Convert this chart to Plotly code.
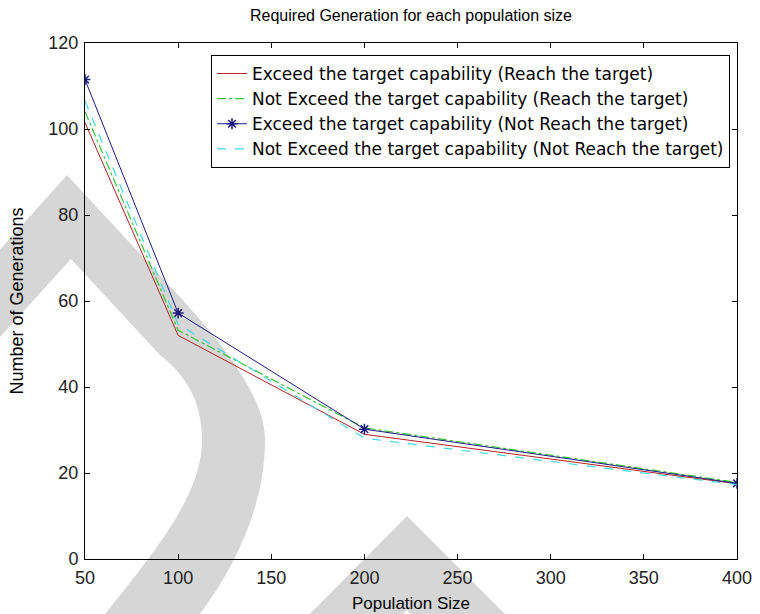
import plotly.graph_objects as go

# ---- data ----
population_size = [50, 100, 200, 400]
exceed_reach = [101.5, 52.0, 29.0, 17.5]
not_exceed_reach = [104.0, 53.2, 30.5, 17.8]
exceed_not_reach = [111.5, 57.2, 30.2, 17.6]
not_exceed_not_reach = [106.5, 54.6, 28.1, 17.3]

series_names = [
    "Exceed the target capability (Reach the target)",
    "Not Exceed the target capability (Reach the target)",
    "Exceed the target capability (Not Reach the target)",
    "Not Exceed the target capability (Not Reach the target)",
]

x_ticks = [50, 100, 150, 200, 250, 300, 350, 400]
y_ticks = [0, 20, 40, 60, 80, 100, 120]

FONT = "Liberation Sans, Arial, sans-serif"
LEGEND_FONT = "DejaVu Sans, Liberation Sans, sans-serif"

W, H = 760, 614
L, R, T, B = 85, 23, 43, 55
PW, PH = W - L - R, H - T - B

fig = go.Figure()
fig.add_trace(go.Scatter(x=population_size, y=exceed_reach, mode="lines",
                         name=series_names[0],
                         line=dict(color="#b22222", width=1, dash="solid")))
fig.add_trace(go.Scatter(x=population_size, y=not_exceed_reach, mode="lines",
                         name=series_names[1],
                         line=dict(color="#33c633", width=1.2, dash="dashdot")))
fig.add_trace(go.Scatter(x=population_size, y=exceed_not_reach, mode="lines+markers",
                         name=series_names[2],
                         line=dict(color="#1c1c80", width=1, dash="solid"),
                         marker=dict(symbol="asterisk-open", size=9,
                                     line=dict(color="#0000ff", width=1.5))))
fig.add_trace(go.Scatter(x=population_size, y=not_exceed_not_reach, mode="lines",
                         name=series_names[3],
                         line=dict(color="#3fd9df", width=1.2, dash="dash")))


def pp(px, py):
    return "%.4f,%.4f" % ((px - L) / PW, (H - B - py) / PH)


def path(cmds):
    out = []
    for c in cmds:
        if isinstance(c, str):
            out.append(c)
        else:
            out.append(pp(*c))
    return " ".join(out)


gray = "#d6d6d6"
arc = path(["M", (-20, 272), "L", (67, 175), "L", (167, 283),
            "C", (230, 350), (265, 400), (265, 440),
            "C", (265, 500), (240, 560), (200, 614),
            "L", (182, 640), "L", (85, 640), "L", (105, 614),
            "C", (165, 540), (202, 490), (202, 440),
            "C", (202, 400), (185, 375), (160, 355),
            "L", (71, 259), "L", (-20, 359), "Z"])
tri = path(["M", (284, 640), "L", (407, 516), "L", (531, 640),
            "L", (437, 640), "L", (407, 610), "L", (377, 640), "Z"])

shapes = [
    dict(type="path", xref="paper", yref="paper", path=arc,
         fillcolor=gray, line=dict(width=0), layer="below"),
    dict(type="path", xref="paper", yref="paper", path=tri,
         fillcolor=gray, line=dict(width=0), layer="below"),
]

axis_common = dict(showgrid=False, zeroline=False, showline=True, linecolor="black",
                   linewidth=1, mirror="ticks", ticks="inside", ticklen=5,
                   tickcolor="black", automargin=False,
                   tickfont=dict(family=FONT, size=18, color="#222222"))

fig.update_layout(
    width=W, height=H,
    margin=dict(l=L, r=R, t=T, b=B, autoexpand=False),
    paper_bgcolor="white",
    plot_bgcolor="rgba(0,0,0,0)",
    shapes=shapes,
    title=dict(text="Required Generation for each population size",
               font=dict(family=FONT, size=16, color="black"),
               x=0.5 * (L + (W - R)) / W, xanchor="center",
               y=1 - 15 / H, yanchor="middle"),
    xaxis=dict(range=[50, 400], tickvals=x_ticks, ticklabelstandoff=2,
               title=dict(text="Population Size", standoff=10,
                          font=dict(family=FONT, size=17, color="black")),
               **axis_common),
    yaxis=dict(range=[0, 120], tickvals=y_ticks, ticklabelstandoff=2,
               title=dict(text="Number of Generations", standoff=20,
                          font=dict(family=FONT, size=18, color="black")),
               **axis_common),
    legend=dict(x=(730 - L) / PW, y=(H - B - 55) / PH, xanchor="right", yanchor="top",
                bgcolor="white", bordercolor="black", borderwidth=1,
                font=dict(family=LEGEND_FONT, size=17, color="black"),
                tracegroupgap=0),
    showlegend=True,
)

fig.write_html("out.html")
